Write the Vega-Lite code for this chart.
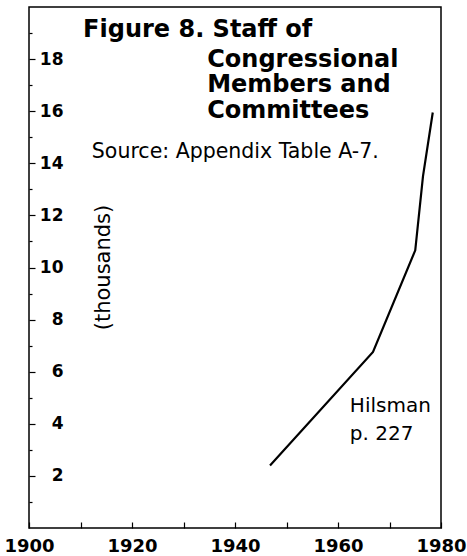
{
  "$schema": "https://vega.github.io/schema/vega-lite/v6.json",
  "width": 412,
  "height": 521,
  "autosize": {"type": "none"},
  "padding": {"left": 29, "top": 7, "right": 26, "bottom": 28},
  "background": "white",
  "config": {
    "view": {"stroke": "black", "strokeWidth": 1.5},
    "font": "DejaVu Sans"
  },
  "datasets": {
    "staff": [
      {"year": 1946.8, "thousands": 2.4},
      {"year": 1966.8, "thousands": 6.76},
      {"year": 1975.0, "thousands": 10.66},
      {"year": 1976.5, "thousands": 13.5},
      {"year": 1978.4, "thousands": 15.95}
    ],
    "notes": [
      {"label": "Figure 8. Staff of", "year": 1910.5, "thousands": 18.85, "kind": "title"},
      {"label": "Congressional", "year": 1934.6, "thousands": 17.7, "kind": "title"},
      {"label": "Members and", "year": 1934.6, "thousands": 16.72, "kind": "title"},
      {"label": "Committees", "year": 1934.6, "thousands": 15.74, "kind": "title"},
      {"label": "Source: Appendix Table A-7.", "year": 1912.2, "thousands": 14.2, "kind": "source"},
      {"label": "(thousands)", "year": 1914.5, "thousands": 10.0, "kind": "unit"},
      {"label": "Hilsman", "year": 1962.3, "thousands": 4.45, "kind": "credit"},
      {"label": "p. 227", "year": 1962.3, "thousands": 3.38, "kind": "credit"}
    ]
  },
  "encoding": {
    "x": {
      "field": "year",
      "type": "quantitative",
      "scale": {"domain": [1900, 1980], "nice": false, "zero": false},
      "axis": {
        "title": null,
        "values": [1900, 1910, 1920, 1930, 1940, 1950, 1960, 1970, 1980],
        "format": "d",
        "labelExpr": "datum.value % 20 === 0 ? datum.label : ''",
        "domain": false,
        "grid": false,
        "tickSize": -6,
        "tickColor": "black",
        "tickWidth": 1.2,
        "labelFont": "DejaVu Sans",
        "labelFontWeight": "bold",
        "labelFontSize": 18,
        "labelColor": "black",
        "labelPadding": 15,
        "labelFlush": false,
        "labelOverlap": false
      }
    },
    "y": {
      "field": "thousands",
      "type": "quantitative",
      "scale": {"domain": [0, 20], "nice": false},
      "axis": {
        "title": null,
        "values": [1, 2, 3, 4, 5, 6, 7, 8, 9, 10, 11, 12, 13, 14, 15, 16, 17, 18, 19],
        "labelExpr": "datum.value % 2 === 0 ? datum.label : ''",
        "domain": false,
        "grid": false,
        "tickSize": {"condition": {"test": "datum.value % 2 === 0", "value": -6}, "value": -3},
        "tickColor": "black",
        "tickWidth": 1.2,
        "labelFont": "DejaVu Sans",
        "labelFontWeight": "bold",
        "labelFontSize": 17,
        "labelColor": "black",
        "labelAlign": "right",
        "labelPadding": -28,
        "labelFlush": false,
        "labelOverlap": false
      }
    }
  },
  "layer": [
    {
      "data": {"name": "staff"},
      "mark": {"type": "line", "color": "black", "strokeWidth": 2.2}
    },
    {
      "data": {"name": "notes"},
      "transform": [{"filter": "datum.kind === 'title'"}],
      "mark": {"type": "text", "align": "left", "baseline": "alphabetic", "font": "DejaVu Sans", "fontWeight": "bold", "fontSize": 24, "color": "black"},
      "encoding": {"text": {"field": "label"}}
    },
    {
      "data": {"name": "notes"},
      "transform": [{"filter": "datum.kind === 'source'"}],
      "mark": {"type": "text", "align": "left", "baseline": "alphabetic", "font": "DejaVu Sans", "fontSize": 20.5, "color": "black"},
      "encoding": {"text": {"field": "label"}}
    },
    {
      "data": {"name": "notes"},
      "transform": [{"filter": "datum.kind === 'credit'"}],
      "mark": {"type": "text", "align": "left", "baseline": "alphabetic", "font": "DejaVu Sans", "fontSize": 20, "color": "black"},
      "encoding": {"text": {"field": "label"}}
    },
    {
      "data": {"name": "notes"},
      "transform": [{"filter": "datum.kind === 'unit'"}],
      "mark": {"type": "text", "align": "center", "baseline": "middle", "angle": 270, "font": "DejaVu Sans", "fontSize": 21, "color": "black"},
      "encoding": {"text": {"field": "label"}}
    }
  ]
}
